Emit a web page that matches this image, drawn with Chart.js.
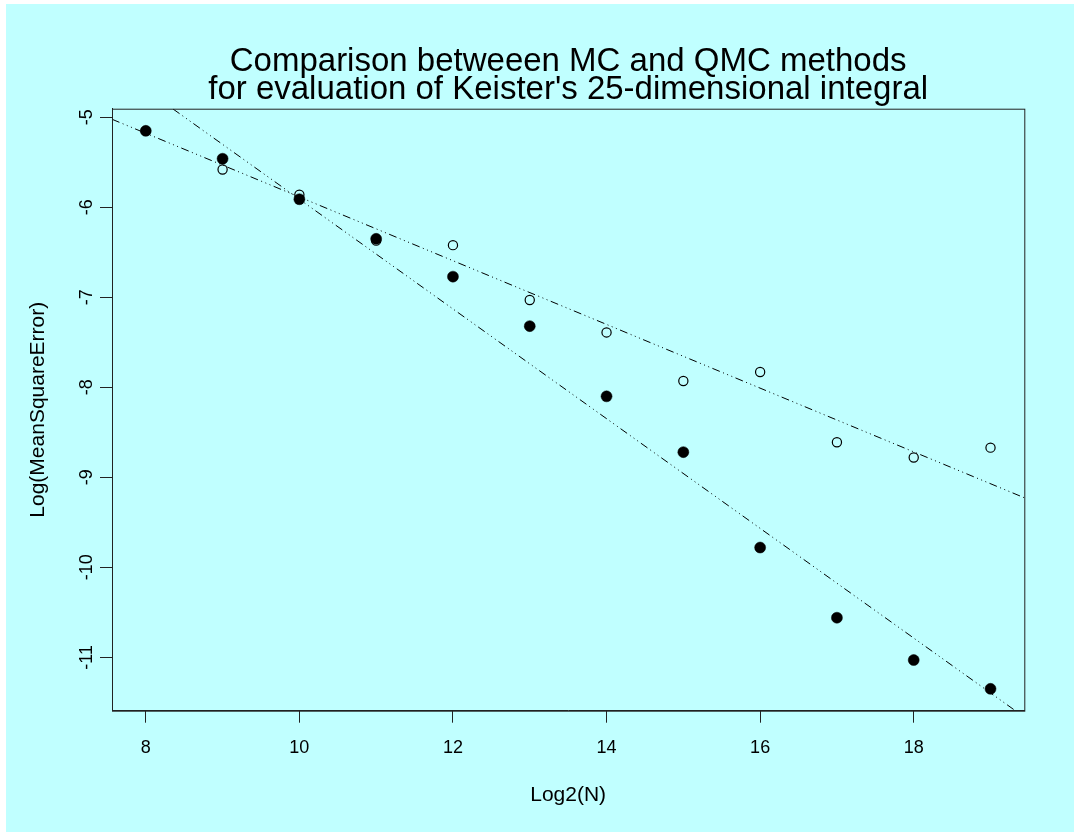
<!DOCTYPE html>
<html>
<head>
<meta charset="utf-8">
<title>MC vs QMC - Keister integral</title>
<script src="https://cdn.jsdelivr.net/npm/chart.js@4.4.1/dist/chart.umd.min.js"></script>
<style>
  html, body { margin: 0; padding: 0; background: #fff; }
  #wrap { width: 1074px; height: 832px; }
</style>
</head>
<body>
<div id="wrap"><canvas id="chart" width="1074" height="832"></canvas></div>
<script>
/* =========================
   DATA
========================= */
const log2N    = [8, 9, 10, 11, 12, 13, 14, 15, 16, 17, 18, 19];
const qmcError = [-5.15, -5.46, -5.91, -6.35, -6.77, -7.32, -8.10, -8.72, -9.78, -10.56, -11.03, -11.35];
const mcError  = [-5.15, -5.58, -5.86, -6.37, -6.42, -7.03, -7.39, -7.93, -7.83, -8.61, -8.78, -8.67];

// fitted lines: [intercept, slope]
const qmcFit = [0.185, -0.6095];
const mcFit  = [-2.345, -0.354];

const xTicks = [8, 10, 12, 14, 16, 18];
const yTicks = [-5, -6, -7, -8, -9, -10, -11];
const xRange = [7.56, 19.44];
const yRange = [-11.593, -4.904];

const titleLines = ["Comparison betweeen MC and QMC methods",
                    "for evaluation of Keister's 25-dimensional integral"];

/* =========================
   HELPERS
========================= */
const FONT = "'Liberation Sans', Arial, Helvetica, sans-serif";
const INK = "#000";
const FRAME = "#222";

function toPoints(xs, ys) {
  return xs.map((x, i) => ({ x, y: ys[i] }));
}

function fitLine(fit) {
  return xRange.map(x => ({ x, y: fit[0] + fit[1] * x }));
}

const dashDotDot = [8, 3.5, 1, 3.5, 1, 3.5, 1, 3.5];

// cyan page with the thin white margin on the left / top
const pageBg = {
  id: "pageBg",
  beforeDraw(chart) {
    const { ctx, width, height } = chart;
    ctx.save();
    ctx.fillStyle = "#fff";
    ctx.fillRect(0, 0, width, height);
    ctx.fillStyle = "#c0ffff";
    ctx.fillRect(6, 4, width - 6, height - 4);
    ctx.restore();
  }
};

// box around plot + two-line title centred over the plot
const frameAndTitle = {
  id: "frameAndTitle",
  afterDraw(chart) {
    const { ctx, chartArea: a } = chart;
    ctx.save();
    ctx.strokeStyle = FRAME;
    ctx.lineWidth = 1;
    ctx.strokeRect(a.left + 0.5, a.top + 0.5, a.right - a.left, a.bottom - a.top);

    ctx.fillStyle = INK;
    ctx.font = "33px " + FONT;
    ctx.textAlign = "center";
    ctx.textBaseline = "middle";
    const cx = (a.left + a.right) / 2;
    ctx.fillText(titleLines[0], cx, 62);
    ctx.fillText(titleLines[1], cx, 90);
    ctx.restore();
  }
};

/* =========================
   CHART
========================= */
new Chart(document.getElementById("chart"), {
  type: "scatter",
  data: {
    datasets: [
      {
        label: "QMC",
        data: toPoints(log2N, qmcError),
        pointRadius: 5.5,
        pointBackgroundColor: INK,
        pointBorderColor: INK,
        pointBorderWidth: 0.5
      },
      {
        label: "MC",
        data: toPoints(log2N, mcError),
        pointRadius: 4.6,
        pointBackgroundColor: "rgba(0,0,0,0)",
        pointBorderColor: INK,
        pointBorderWidth: 1.2
      },
      {
        type: "line",
        label: "QMC fit",
        data: fitLine(qmcFit),
        borderColor: INK,
        borderWidth: 1,
        borderDash: dashDotDot,
        pointRadius: 0,
        fill: false
      },
      {
        type: "line",
        label: "MC fit",
        data: fitLine(mcFit),
        borderColor: INK,
        borderWidth: 1,
        borderDash: dashDotDot,
        pointRadius: 0,
        fill: false
      }
    ]
  },
  options: {
    responsive: false,
    animation: false,
    devicePixelRatio: 1,
    layout: { padding: { top: 108.7, right: 49.7, left: 0, bottom: 0 } },
    plugins: {
      legend: { display: false },
      tooltip: { enabled: false },
      title: { display: false }
    },
    scales: {
      x: {
        type: "linear",
        min: xRange[0],
        max: xRange[1],
        afterBuildTicks: s => { s.ticks = xTicks.map(v => ({ value: v })); },
        afterFit: s => { s.height = 121.3; },
        grid: { drawOnChartArea: false, drawTicks: true, tickLength: 12, color: FRAME },
        border: { display: true, color: FRAME },
        ticks: { color: INK, font: { family: FONT, size: 18 }, padding: 15, maxRotation: 0 },
        title: {
          display: true,
          text: "Log2(N)",
          color: INK,
          font: { family: FONT, size: 21 },
          padding: { top: 0, bottom: 24 }
        }
      },
      y: {
        type: "linear",
        min: yRange[0],
        max: yRange[1],
        afterBuildTicks: s => { s.ticks = yTicks.map(v => ({ value: v })); },
        afterFit: s => { s.width = 112; },
        grid: { drawOnChartArea: false, drawTicks: true, tickLength: 12, color: FRAME },
        border: { display: true, color: FRAME },
        ticks: {
          color: INK,
          font: { family: FONT, size: 18 },
          padding: 0,
          minRotation: 90,
          maxRotation: 90,
          crossAlign: "center"
        },
        title: {
          display: true,
          text: "Log(MeanSquareError)",
          color: INK,
          font: { family: FONT, size: 21 },
          padding: { top: 26, bottom: 0 }
        }
      }
    }
  },
  plugins: [pageBg, frameAndTitle]
});
</script>
</body>
</html>
